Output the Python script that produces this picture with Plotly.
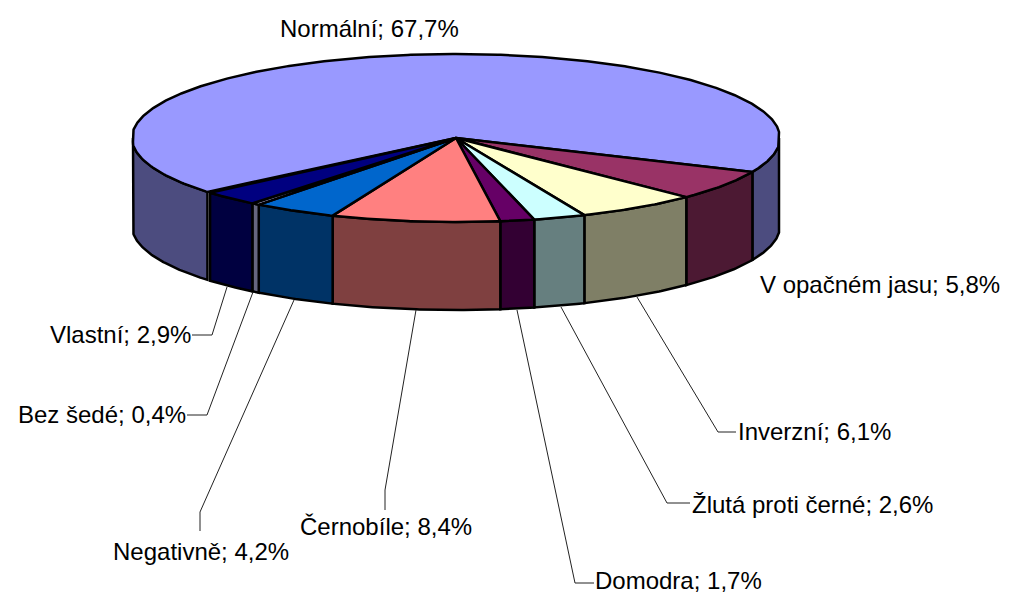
import numpy as np
import plotly.graph_objects as go

categories = ["Normální", "V opačném jasu", "Inverzní", "Žlutá proti černé", "Domodra",
              "Černobíle", "Negativně", "Bez šedé", "Vlastní"]
values = [67.7, 5.8, 6.1, 2.6, 1.7, 8.4, 4.2, 0.4, 2.9]
colors = ["#9999FF", "#993366", "#FFFFCC", "#CCFFFF", "#660066",
          "#FF8080", "#0066CC", "#CCCCFF", "#000080"]
label_pos = [(369, 28, "center"), (758, 284, "left"), (736, 431, "left"), (690, 504, "left"),
             (593, 580, "left"), (386, 526, "center"), (201, 551, "center"),
             (188, 414, "right"), (193, 334, "right")]
leaders = [None, None,
           [(637, 297), (718, 432), (736, 432)],
           [(561, 307), (667, 503), (690, 503)],
           [(517, 310), (575, 583), (594, 583)],
           [(416, 310), (385, 490), (385, 510)],
           [(294, 300), (200, 512), (200, 531)],
           [(253, 292), (207, 415), (187, 415)],
           [(227, 287), (212, 335), (192, 335)]]

CX, CY, A, B, DEPTH = 456, 138, 324, 84, 88
EDGE = 323  # the rim's flat left and right extremes
START = 219.9
PAGE_MARGIN = 8  # the page's body margin shifts the plot; the axis ranges compensate


def half(c):
    return "#%02X%02X%02X" % tuple(int(c[i:i + 2], 16) // 2 for i in (1, 3, 5))


def rim(t0, t1):
    n = max(2, int(abs(t0 - t1) * 2) + 2)
    t = np.radians(np.linspace(t0, t1, n))
    return CX + np.clip(A * np.cos(t), -EDGE, EDGE), CY - B * np.sin(t)


fig = go.Figure()
angles = START - np.concatenate([[0], np.cumsum(values)]) * 3.6

# side walls: visible where the rim faces the viewer
for i, name in enumerate(categories):
    t0, t1 = angles[i], angles[i + 1]  # t0 > t1, clockwise
    for lo, hi in [(180, 360), (-180, 0)]:
        a, b = min(t0, hi), max(t1, lo)
        if a <= b:
            continue
        x, y = rim(a, b)
        fig.add_trace(go.Scatter(
            x=np.concatenate([x, x[::-1], x[:1]]),
            y=np.concatenate([y, y[::-1] + DEPTH, y[:1]]),
            mode="lines", fill="toself", fillcolor=half(colors[i]),
            line=dict(color="black", width=2.5), hoverinfo="skip", showlegend=False))

# top faces
for i, name in enumerate(categories):
    x, y = rim(angles[i], angles[i + 1])
    fig.add_trace(go.Scatter(
        x=np.concatenate([[CX], x, [CX]]), y=np.concatenate([[CY], y, [CY]]),
        mode="lines", fill="toself", fillcolor=colors[i],
        line=dict(color="black", width=2.5), name=name,
        text=f"{name}; {values[i]}%".replace(".", ","), hoverinfo="text", showlegend=False))

# leader lines
for pts in leaders:
    if pts:
        fig.add_trace(go.Scatter(x=[p[0] for p in pts], y=[p[1] for p in pts], mode="lines",
                                 line=dict(color="#222222", width=1), hoverinfo="skip",
                                 showlegend=False))

for name, v, (x, y, anchor) in zip(categories, values, label_pos):
    fig.add_annotation(x=x, y=y, xanchor=anchor, yanchor="middle", showarrow=False,
                       text=f"{name}; {v:.1f}%".replace(".", ","),
                       font=dict(family="Liberation Sans", size=24, color="black"))

fig.update_layout(
    width=1012, height=593, margin=dict(l=0, r=0, t=0, b=0),
    paper_bgcolor="white", plot_bgcolor="white",
    xaxis=dict(range=[PAGE_MARGIN, 1012 + PAGE_MARGIN], visible=False, fixedrange=True),
    yaxis=dict(range=[593 + PAGE_MARGIN, PAGE_MARGIN], visible=False, fixedrange=True),
)
fig.write_html("out.html")
